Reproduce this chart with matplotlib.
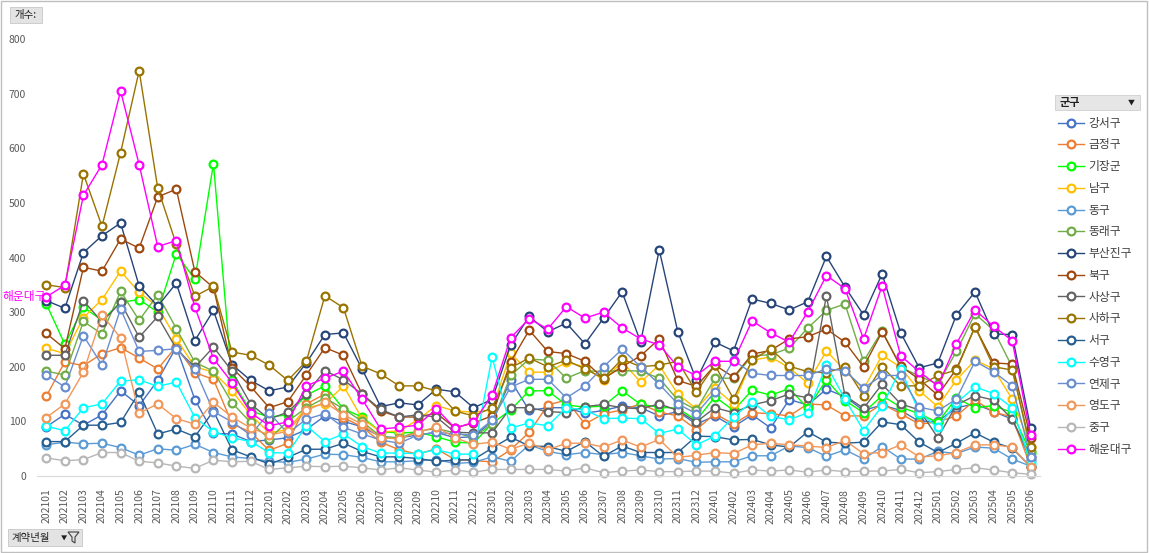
import numpy as np
import matplotlib
matplotlib.use("agg")
import matplotlib.pyplot as plt
from matplotlib.patches import Rectangle, Polygon

plt.rcParams['font.family'] = ['Noto Sans CJK KR', 'DejaVu Sans']

W, H = 1149, 553

# months 202101 .. 202506
months = [f"{y}{m:02d}" for y in range(2021, 2026) for m in range(1, 13)][:54]

districts = ["강서구", "금정구", "기장군", "남구", "동구", "동래구", "부산진구", "북구",
             "사상구", "사하구", "서구", "수영구", "연제구", "영도구", "중구", "해운대구"]
colors = ["#4472C4", "#ED7D31", "#00FF00", "#FFC000", "#5B9BD5", "#70AD47", "#264478", "#9E480E",
          "#636363", "#997300", "#255E91", "#00FFFF", "#698ED0", "#F1975A", "#B7B7B7", "#FF00FF"]

gangseo = [90, 113, 93, 112, 156, 129, 175, 236, 140, 78, 77, 63, 66, 70, 85, 110, 100, 90, 72, 70, 75, 80, 70, 72,
           100, 175, 120, 125, 125, 115, 120, 128, 125, 110, 118, 95, 110, 90, 112, 88, 140, 130, 159, 145, 120, 130, 120, 100,
           100, 125, 132, 118, 104, 29]
geumjeong = [146, 209, 202, 224, 235, 216, 196, 237, 189, 177, 96, 80, 47, 60, 132, 150, 107, 90, 62, 48, 40, 50, 30, 28,
             26, 48, 80, 130, 139, 95, 114, 121, 132, 117, 110, 85, 114, 95, 116, 114, 110, 132, 130, 110, 110, 132, 114, 95,
             99, 110, 139, 117, 108, 17]
gijang = [315, 241, 309, 285, 318, 323, 300, 407, 360, 572, 175, 119, 108, 112, 148, 165, 123, 108, 81, 79, 80, 72, 62, 60,
          96, 121, 156, 156, 130, 126, 128, 156, 131, 126, 124, 102, 145, 120, 157, 148, 160, 124, 176, 138, 116, 147, 126, 114,
          98, 143, 125, 129, 116, 42]
namgu = [234, 224, 290, 323, 375, 336, 310, 251, 200, 190, 156, 112, 79, 85, 125, 132, 165, 105, 81, 82, 103, 129, 119, 117,
         121, 225, 190, 190, 208, 200, 175, 209, 172, 203, 150, 123, 161, 132, 212, 218, 198, 170, 229, 193, 159, 221, 199, 156,
         127, 176, 212, 196, 141, 54]
donggu = [57, 62, 59, 60, 52, 38, 50, 47, 58, 43, 35, 32, 27, 25, 31, 40, 39, 34, 26, 26, 28, 30, 23, 25,
          35, 27, 57, 45, 39, 43, 39, 43, 37, 31, 32, 25, 26, 26, 37, 37, 55, 52, 36, 48, 31, 54, 31, 31,
          45, 41, 53, 51, 31, 18]
dongnae = [192, 185, 283, 260, 338, 285, 332, 270, 208, 192, 134, 98, 68, 100, 125, 143, 123, 100, 72, 69, 82, 87, 79, 71,
           95, 184, 214, 212, 179, 193, 191, 193, 192, 179, 139, 121, 179, 179, 220, 222, 234, 271, 303, 315, 210, 266, 199, 183,
           168, 228, 297, 267, 200, 45]
busanjin = [321, 307, 409, 440, 463, 348, 311, 353, 248, 303, 204, 175, 156, 163, 207, 259, 262, 196, 127, 134, 130, 159, 154, 125,
            140, 240, 292, 264, 280, 242, 289, 337, 245, 414, 264, 176, 245, 229, 324, 316, 304, 319, 402, 346, 295, 370, 262, 198,
            207, 295, 337, 260, 259, 87]
bukgu = [261, 233, 382, 375, 434, 417, 511, 525, 374, 345, 198, 164, 125, 136, 185, 235, 221, 150, 119, 108, 108, 115, 88, 97,
         110, 209, 267, 228, 224, 210, 178, 200, 220, 251, 175, 164, 203, 181, 223, 230, 251, 255, 269, 245, 200, 264, 201, 177,
         148, 196, 273, 207, 205, 70]
sasang = [221, 221, 321, 282, 318, 254, 292, 233, 199, 236, 192, 132, 104, 117, 150, 193, 176, 150, 122, 108, 112, 108, 80, 79,
          79, 125, 125, 118, 116, 127, 131, 125, 123, 132, 120, 99, 125, 116, 130, 138, 150, 143, 330, 147, 124, 168, 132, 121,
          70, 130, 147, 139, 104, 35]
saha = [350, 345, 553, 457, 592, 742, 527, 424, 329, 347, 227, 221, 203, 175, 210, 330, 308, 201, 187, 165, 165, 156, 119, 110,
        125, 198, 216, 200, 212, 196, 179, 214, 200, 203, 210, 154, 203, 141, 212, 233, 201, 191, 189, 200, 147, 200, 165, 165,
        184, 194, 273, 200, 194, 54]
seogu = [63, 63, 93, 93, 98, 153, 77, 86, 72, 119, 48, 35, 22, 34, 49, 49, 60, 45, 35, 35, 32, 27, 29, 30,
         51, 71, 55, 54, 45, 63, 36, 55, 43, 43, 43, 73, 72, 66, 67, 57, 53, 81, 62, 60, 62, 99, 94, 62,
         43, 60, 79, 62, 51, 17]
suyeong = [91, 83, 125, 132, 174, 176, 164, 172, 107, 81, 70, 63, 43, 42, 92, 63, 77, 54, 42, 42, 41, 48, 40, 40,
           218, 88, 97, 92, 125, 121, 105, 106, 105, 78, 86, 57, 73, 108, 136, 109, 103, 116, 203, 141, 83, 128, 196, 116,
           89, 134, 163, 151, 125, 24]
yeonje = [185, 163, 257, 203, 306, 228, 230, 233, 196, 118, 99, 75, 116, 78, 104, 114, 89, 77, 66, 60, 75, 80, 77, 75,
          102, 163, 177, 177, 143, 165, 200, 232, 200, 168, 132, 114, 154, 212, 188, 184, 184, 184, 196, 193, 161, 184, 184, 126,
          119, 141, 210, 191, 165, 35]
yeongdo = [107, 132, 190, 295, 253, 115, 132, 105, 95, 135, 108, 88, 75, 82, 120, 135, 112, 95, 70, 68, 80, 90, 70, 58,
           62, 49, 60, 48, 60, 60, 53, 66, 53, 67, 34, 38, 43, 41, 57, 60, 57, 55, 52, 65, 41, 43, 57, 35,
           37, 43, 57, 57, 53, 16]
junggu = [33, 28, 30, 43, 43, 27, 24, 18, 14, 29, 26, 27, 12, 15, 18, 17, 18, 15, 11, 15, 11, 7, 11, 7,
          12, 12, 12, 12, 9, 15, 6, 9, 11, 8, 8, 9, 9, 5, 11, 9, 11, 7, 11, 8, 9, 9, 12, 6,
          8, 12, 15, 11, 6, 3]
haeundae = [328, 349, 514, 570, 705, 570, 420, 431, 309, 215, 171, 116, 92, 99, 165, 179, 192, 141, 86, 89, 93, 123, 88, 98,
            148, 253, 288, 269, 310, 289, 300, 271, 251, 240, 200, 184, 210, 210, 284, 262, 245, 301, 367, 343, 251, 348, 220, 191,
            165, 242, 304, 274, 248, 75]

series = [gangseo, geumjeong, gijang, namgu, donggu, dongnae, busanjin, bukgu,
          sasang, saha, seogu, suyeong, yeonje, yeongdo, junggu, haeundae]


def fx(x):
    return x / W


def fy(y):
    return 1 - y / H


fig = plt.figure(figsize=(W / 100, H / 100), dpi=100)
ax = fig.add_axes([fx(37), fy(476), (1040 - 37) / W, (476 - 39) / H])

x = np.arange(len(months))
handles = []
for name, col, vals in zip(districts, colors, series):
    ln, = ax.plot(x, vals, color=col, lw=1.0, marker='o', ms=5.6, mfc='white',
                  mec=col, mew=1.6, label=name, clip_on=False)
    handles.append(ln)

ax.set_xlim(-0.5, len(months) - 0.5)
ax.set_ylim(0, 800)
ax.set_yticks(range(0, 801, 100))
ax.set_xticks(x)
ax.set_xticklabels(months, rotation=90, fontsize=7.5, color='#595959')
ax.tick_params(axis='both', length=0, colors='#595959', labelsize=7.5)
ax.tick_params(axis='x', pad=9)
ax.tick_params(axis='y', pad=8)
for s in ['top', 'right', 'left']:
    ax.spines[s].set_visible(False)
ax.spines['bottom'].set_color('#D9D9D9')

ax.text(0, 328, '해운대구', ha='right', va='center', color='#FF00FF', fontsize=8.5, zorder=1, clip_on=False)

# legend
leg = fig.legend(handles=handles, loc='upper left', bbox_to_anchor=(fx(1053), fy(112)),
                 frameon=False, fontsize=8.5, handlelength=2.2, handletextpad=0.4,
                 labelspacing=0.74, borderaxespad=0)
for t in leg.get_texts():
    t.set_color('#404040')

# legend header
fig.patches.append(Rectangle((fx(1055), fy(110)), 85 / W, 15 / H, transform=fig.transFigure,
                             facecolor='#E6E6E6', edgecolor='#CFCFCF', lw=0.6))
fig.text(fx(1060), fy(102.5), '군구', fontsize=8, fontweight='bold', va='center', color='#202020')
fig.text(fx(1131), fy(102.5), '▼', fontsize=5, va='center', ha='center', color='#202020')

# top-left field button
fig.patches.append(Rectangle((fx(10), fy(23)), 32 / W, 16 / H, transform=fig.transFigure,
                             facecolor='#E3E3E3', edgecolor='#C8C8C8', lw=0.6))
fig.text(fx(26), fy(15), '개수:', fontsize=7.5, va='center', ha='center', color='#202020')

# bottom-left field button
fig.patches.append(Rectangle((fx(8), fy(546)), 74 / W, 17 / H, transform=fig.transFigure,
                             facecolor='#E3E3E3', edgecolor='#C8C8C8', lw=0.6))
fig.text(fx(12), fy(537.5), '계약년월', fontsize=7.5, va='center', ha='left', color='#202020')
fig.text(fx(64), fy(538.5), '▼', fontsize=4.5, va='center', ha='center', color='#202020')
fig.patches.append(Polygon([(fx(68), fy(532)), (fx(79), fy(532)), (fx(75), fy(537)),
                            (fx(75), fy(543)), (fx(72), fy(541)), (fx(72), fy(537))],
                           closed=True, transform=fig.transFigure, facecolor='none',
                           edgecolor='#404040', lw=0.8))

# outer border
fig.patches.append(Rectangle((0.0005, 0.001), 0.998, 0.997, transform=fig.transFigure,
                             facecolor='none', edgecolor='#BFBFBF', lw=1))

fig.savefig("out.png", dpi=100)
